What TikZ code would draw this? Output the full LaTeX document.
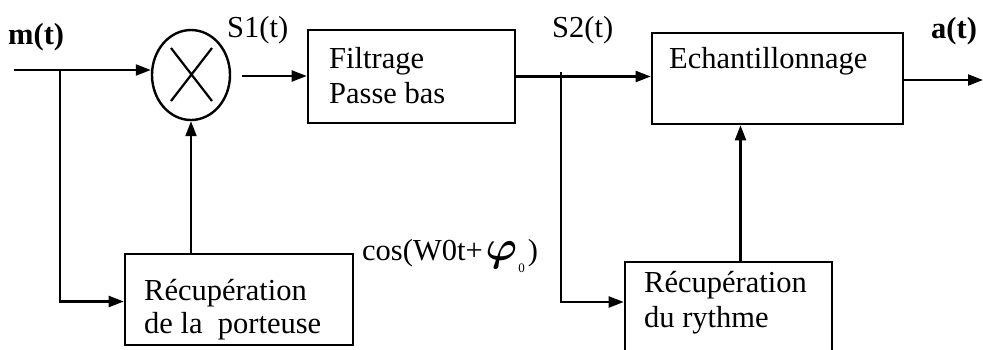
\documentclass[tikz,border=0pt]{standalone}
\usepackage{graphicx}
\usepackage{fontspec}
\setmainfont{Liberation Serif}
\usetikzlibrary{arrows.meta,shapes.geometric}
\begin{document}
\begin{tikzpicture}[x=1pt,y=-1pt,
  box/.style={draw,rectangle,inner sep=0pt,line width=2.6pt},
  mul/.style={draw,ellipse,inner sep=0pt,line width=2.4pt,minimum width=78pt,minimum height=90pt},
  txt/.style={inner sep=0pt,anchor=base west,font=\fontsize{30.5}{35}\selectfont},
  btxt/.style={txt,font=\fontsize{30.5}{35}\selectfont\bfseries},
  wire/.style={line width=2.2pt},
  arr/.style={wire,-{Triangle[length=15pt,width=11pt]}}]
\useasboundingbox (0,0) rectangle (983,349);

% blocks
\node[mul] (mult) at (191,75) {};
\draw[line width=2.2pt] ([shift={(-20pt,27pt)}]mult.center) -- ([shift={(21pt,-26pt)}]mult.center)
                        ([shift={(21pt,27pt)}]mult.center) -- ([shift={(-20pt,-26pt)}]mult.center);
\node[box,minimum width=207pt,minimum height=93pt] (filt) at (411.5,76.5) {};
\node[box,minimum width=251pt,minimum height=91pt] (ech) at (777.5,78.5) {};
\node[box,minimum width=228pt,minimum height=91pt] (port) at (239,299.5) {};
\node[box,minimum width=207pt,minimum height=110pt] (ryt) at (728.5,317) {};

% texts
\node[btxt] (lm) at (8,44) {m(t)};
\node[txt] (ls1) at (227,37) {S1(t)};
\node[txt] (ls2) at (552,37) {S2(t)};
\node[btxt] (la) at (931,38) {a(t)};
\node[txt] (tf1) at (329,68) {Filtrage};
\node[txt] (tf2) at (329,103) {Passe bas};
\node[txt] (te) at (669,68) {Echantillonnage};
\node[txt] (tp1) at (144,300) {Récupération};
\node[txt] (tp2) at (144,333) {de la\ \ porteuse};
\node[txt] (tr1) at (644,292) {Récupération};
\node[txt] (tr2) at (644,327) {du rythme};
\node[txt] (lcos) at (362,260) {cos(W0t+\hspace{3pt}\scalebox{1.7}{\fontsize{24}{24}\selectfont\boldmath$\varphi$}\hspace{1pt}\raisebox{-12pt}{\fontsize{13}{13}\selectfont 0}\hspace{3pt})};

% connectors
\coordinate (in) at (14,70);
\coordinate (b1) at (60,70);
\coordinate (s1a) at (242,76);
\coordinate (b2) at (561,72);
\coordinate (out) at (983,80);
\draw[arr] (in) -- (in -| mult.west);
\draw[arr] (b1) |- ([yshift=-2pt]port.west);
\draw[arr] (mult.south |- port.north) -- (mult.south);
\draw[arr] (s1a) -- (s1a -| filt.west);
\draw[arr] (filt.east) -- (filt.east -| ech.west);
\draw[arr] (b2) |- ([yshift=15pt]ryt.west);
\draw[arr] ([xshift=-37pt]ech.south |- ryt.north) -- ([xshift=-37pt]ech.south);
\draw[arr] (ech.east |- out) -- (out);
\end{tikzpicture}
\end{document}
